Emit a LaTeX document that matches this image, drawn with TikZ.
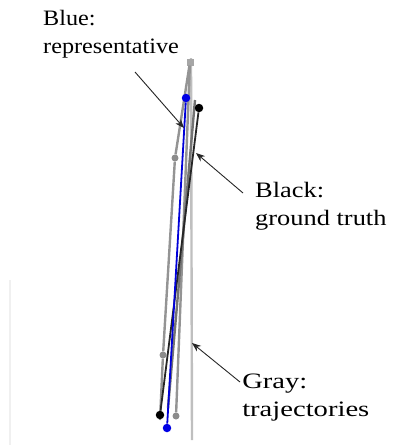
\documentclass[tikz,border=0pt]{standalone}
\usepackage{fontspec}
\setmainfont{Liberation Serif}
\usetikzlibrary{arrows.meta}
\begin{document}
\begin{tikzpicture}[x=1pt,y=-1pt,
  lbl/.style={anchor=base west,align=left,inner sep=0pt,font=\fontsize{22}{28}\selectfont},
  traj/.style={line width=2.4pt,draw=black!42},
  trajl/.style={line width=2.4pt,draw=black!25},
  gdot/.style={circle,fill=black!45,inner sep=0pt,minimum size=7pt},
  rep/.style={line width=1.8pt,draw=blue!85!black},
  gt/.style={line width=1.8pt,draw=black!85},
  bdot/.style={circle,fill=blue!90!black,inner sep=0pt,minimum size=8.5pt},
  kdot/.style={circle,fill=black,inner sep=0pt,minimum size=8.5pt},
  pointer/.style={-{Stealth[length=9pt,width=7pt]},line width=0.9pt,draw=black!85}]
\useasboundingbox (0,0) rectangle (396,445);
% faint artifact line
\draw[line width=1.5pt,draw=black!6] (10,280) -- (10,445);
% gray trajectories
\coordinate (t1a) at (191,58);
\coordinate (t1b) at (192,440);
\draw[trajl] (t1a) -- (t1b);
\node[gdot,rectangle,minimum size=7pt,fill=black!35] (g0) at (190,62) {};
\node[gdot] (g1) at (176,416) {};
\draw[traj] (g0) -- (g1);
\node[gdot] (g2) at (175,158) {};
\node[gdot] (g3) at (163,355) {};
\coordinate (g4) at (160,420);
\draw[traj] (g0) -- (g2) -- (g3) -- (g4);
\coordinate (g5) at (195,100);
\coordinate (g6) at (168,408);
\draw[traj,draw=black!55] (g5) -- (g6);
% ground truth
\node[kdot] (k1) at (199,108) {};
\node[kdot] (k2) at (160,415) {};
\draw[gt] (k1) -- (k2);
% representative
\node[bdot] (b1) at (186,98) {};
\node[bdot] (b2) at (167,428) {};
\draw[rep] (b1) -- (b2);
% labels (anchored at baseline of last line)
\node[lbl,xscale=1.1] (blue) at (43,53) {Blue:\\representative};
\node[lbl,xscale=1.2] (black) at (255,225) {Black:\\ground truth};
\node[lbl,xscale=1.3] (gray) at (242,416) {Gray:\\trajectories};
% pointers
\coordinate (pa0) at (135,72);
\coordinate (pa1) at (184,128);
\coordinate (pb0) at (243,193);
\coordinate (pb1) at (196,153);
\coordinate (pc0) at (240,382);
\coordinate (pc1) at (192,343);
\draw[pointer] (pa0) -- (pa1);
\draw[pointer] (pb0) -- (pb1);
\draw[pointer] (pc0) -- (pc1);
\end{tikzpicture}
\end{document}
